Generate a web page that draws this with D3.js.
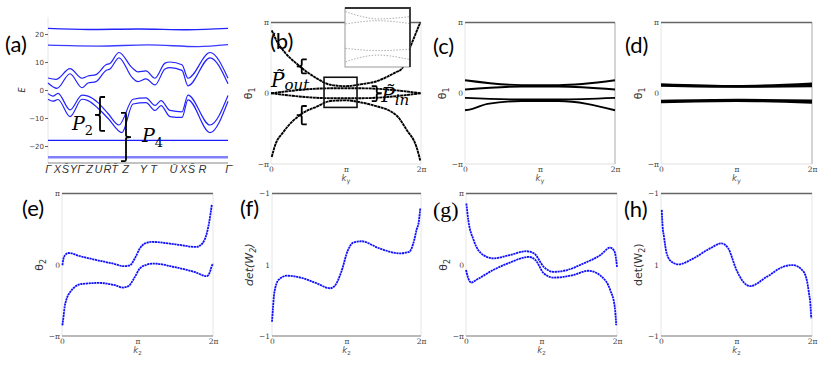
<!DOCTYPE html>
<html lang="en">
<head>
<meta charset="UTF-8">
<title>Bands and Wilson loops</title>
<script src="https://cdn.jsdelivr.net/npm/d3@7"></script>
<style>
  body { margin: 0; background: #fff; }
  .tk text { font-family: "DejaVu Serif", serif; font-size: 7.5px; fill: #444; }
  .tka text { font-family: "DejaVu Sans", sans-serif; font-size: 7px; fill: #444; }
  .tkk text { font-family: "Liberation Sans", sans-serif; font-style: italic; font-size: 11px; fill: #333; }
  .plbl { font-family: Lato, sans-serif; font-size: 22px; fill: #000; }
  .ttl { font-family: "DejaVu Sans", sans-serif; fill: #333; }
  .pp { font-family: "DejaVu Serif", serif; font-style: italic; fill: #000; }
</style>
</head>
<body>
<script>
// ---------- data ----------
// (a) band structure along the k-path
const kLabels = ["Γ","X","S\u0304","Y","Γ\u0304","Z","U","R\u0304","T\u0304","Z","Y","T","U\u0304","X","S\u0304","R","Γ\u0304"];
const kPos = [0, 9, 17, 25, 32, 41, 50, 59, 66, 77, 95, 105, 125, 135, 143, 154, 180];
const eTicks = [-20, -10, 0, 10, 20];
const bandTop = [[0,22],[40,21.6],[90,21.8],[140,21.5],[180,22]];
const bandHigh = [[0,16],[50,15.7],[100,16.1],[150,15.5],[180,16.2]];
const bandLow = [[0,-18],[180,-18]];
const bandBottom = [[0,-24],[180,-24]];
const bandU1 = [[0,4.3],[8,3.8],[22,7.6],[34,4.2],[40,5],[48,5.5],[58,9],[62,9.5],[71,13.4],[84,8],[90,6.5],[98,6.8],[107,4.2],[117,9.6],[122,10],[134,9],[140,4.2],[162,13.4],[180,4.2]];
const bandU2 = [[0,2.5],[9,0.6],[22,5.8],[34,0.8],[40,2.5],[48,3],[58,7],[62,7.5],[71,11.5],[84,4.5],[90,3],[98,4],[107,1.8],[117,7.5],[122,8],[134,7],[140,1.5],[162,11.5],[180,2.2]];
const bandL1 = [[0,-1.3],[5,-2.2],[10,-1.2],[22,-7.1],[34,-1.8],[40,-2.2],[50,-4.5],[60,-8.4],[71,-12.5],[85,-3.3],[98,-2.8],[107,-5.5],[113,-3.8],[122,-7.3],[134,-7.8],[140,-1.8],[162,-12.5],[180,-2]];
const bandL2 = [[0,-3.3],[5,-4],[10,-3.4],[22,-9.5],[34,-3.3],[40,-3.8],[50,-6.5],[60,-10.1],[74,-15.2],[85,-5],[98,-4.5],[107,-7.3],[113,-5.6],[122,-9.5],[134,-9.8],[140,-3.5],[162,-15.2],[180,-4]];

// (b) theta_1 vs k_y (units of pi)
const bOuterUp = [[0.01,0.89],[0.07,0.75],[0.19,0.57],[0.34,0.42],[0.61,0.21],[0.79,0.12],[1.0,0.1],[1.19,0.125],[1.41,0.17],[1.67,0.3],[1.74,0.34],[1.86,0.66],[1.99,1.0]];
const bOuterDn = [[0.01,-0.9],[0.053,-0.74],[0.164,-0.55],[0.41,-0.29],[0.61,-0.19],[0.79,-0.11],[1.0,-0.1],[1.2,-0.13],[1.36,-0.17],[1.67,-0.31],[1.81,-0.52],[1.94,-0.76],[1.99,-0.95]];
const bInnerUp = [[0,0],[0.8,0.07],[1.2,0.07],[2,0]];
const bInnerDn = [[0,0],[0.8,-0.07],[1.2,-0.07],[2,0]];
const zoomK = [0.707, 1.147];
const zoomV = [-0.2, 0.226];
const insetA = [[0.71,0.2],[0.8,0.17],[0.93,0.147],[1.14,0.163]];
const insetB = [[0.71,0.111],[0.93,0.134],[1.14,0.115]];
const insetC = [[0.71,-0.065],[0.93,-0.082],[1.14,-0.072]];
const insetD = [[0.71,-0.162],[0.93,-0.114],[1.14,-0.145]];

// (c), (d)
const c1 = [[0,0.184],[0.75,0.115],[1.25,0.115],[2,0.184]];
const c2 = [[0,0.052],[0.75,0.095],[1.25,0.095],[2,0.052]];
const c3 = [[0,-0.066],[0.75,-0.088],[1.25,-0.088],[2,-0.066]];
const c4 = [[0,-0.24],[0.1,-0.22],[0.3,-0.15],[0.75,-0.11],[1.25,-0.11],[2,-0.24]];
const d1 = [[0,0.125],[1,0.1],[2,0.135]];
const d2 = [[0,0.11],[1,0.095],[2,0.1]];
const d3l = [[0,-0.11],[1,-0.095],[2,-0.105]];
const d4 = [[0,-0.125],[1,-0.105],[2,-0.13]];

// (e)-(h) vs k_z
const eUp = [[0.005,-0.007],[0.02,0.087],[0.04,0.133],[0.085,0.165],[0.24,0.12],[0.5,0.056],[0.7,0.01],[0.81,-0.02],[0.9,-0.007],[0.97,0.1],[1.03,0.227],[1.1,0.3],[1.19,0.32],[1.5,0.287],[1.78,0.25],[1.86,0.3],[1.92,0.45],[1.95,0.6],[1.985,0.85]];
const eDn = [[0.005,-0.85],[0.02,-0.73],[0.035,-0.59],[0.055,-0.5],[0.08,-0.43],[0.11,-0.38],[0.26,-0.27],[0.5,-0.255],[0.7,-0.287],[0.81,-0.32],[0.88,-0.3],[0.96,-0.18],[1.03,-0.053],[1.12,0.0],[1.21,0.017],[1.5,-0.035],[1.75,-0.1],[1.92,-0.16],[1.96,-0.1],[1.98,-0.03],[2.0,0.017]];
const fDet = [[0.0,-0.8],[0.013,-0.61],[0.03,-0.40],[0.09,-0.21],[0.2,-0.154],[0.38,-0.18],[0.6,-0.26],[0.78,-0.33],[0.84,-0.30],[0.93,-0.1],[1.02,0.206],[1.09,0.31],[1.2,0.33],[1.44,0.23],[1.71,0.16],[1.84,0.18],[1.91,0.35],[1.94,0.49],[1.97,0.6],[1.99,0.79]];
const gUp = [[0.005,0.86],[0.03,0.63],[0.1,0.35],[0.23,0.136],[0.36,0.09],[0.58,0.136],[0.8,0.19],[0.9,0.16],[1.03,-0.03],[1.16,-0.1],[1.34,-0.074],[1.56,0.02],[1.78,0.136],[1.91,0.24],[1.96,0.2],[1.99,0.066],[2.0,-0.03]];
const gDn = [[0.0,-0.074],[0.03,-0.19],[0.07,-0.25],[0.14,-0.21],[0.36,-0.074],[0.58,0.03],[0.83,0.11],[0.92,0.066],[1.03,-0.12],[1.16,-0.18],[1.42,-0.145],[1.62,-0.084],[1.8,-0.17],[1.91,-0.355],[1.97,-0.59],[1.99,-0.85]];
const hDet = [[0.01,0.77],[0.02,0.56],[0.04,0.39],[0.075,0.16],[0.14,0.042],[0.23,0.005],[0.43,0.09],[0.65,0.23],[0.8,0.3],[0.89,0.23],[1.0,-0.074],[1.09,-0.24],[1.18,-0.3],[1.4,-0.17],[1.62,-0.028],[1.74,-0.004],[1.87,-0.074],[1.93,-0.21],[1.96,-0.4],[1.98,-0.57],[1.99,-0.75]];

const kTicks = [0, 1, 2], kTickText = ["0", "π", "2π"];
const thTicks = [-1, 0, 1], thTickText = ["−π", "0", "π"];
const detTickText = ["−1", "1", "−1"];

// ---------- drawing ----------
const svg = d3.select("body").append("svg").attr("width", 831).attr("height", 369);

function panel(x0, x1, y0, y1, xd, yd) {
  return {
    x0, x1, y0, y1,
    x: d3.scaleLinear().domain(xd).range([x0, x1]),
    y: d3.scaleLinear().domain(yd).range([y1, y0])
  };
}

const P = {
  a: panel(48, 228, 17, 163, [0, 180], [-26.07, 26.07]),
  b: panel(271, 421, 22.5, 164, [0, 2], [-1, 1]),
  c: panel(465, 615, 22.5, 164, [0, 2], [-1, 1]),
  d: panel(661, 812, 22.5, 164, [0, 2], [-1, 1]),
  e: panel(62, 213, 193.5, 336, [0, 2], [-1, 1]),
  f: panel(272, 421, 193.5, 336, [0, 2], [-1, 1]),
  g: panel(466, 617, 193.5, 336, [0, 2], [-1, 1]),
  h: panel(661, 812, 193.5, 336, [0, 2], [-1, 1])
};

function frame(p, bottomCol, rightCol) {
  const g = svg.append("g");
  g.append("line").attr("x1", p.x0).attr("x2", p.x0).attr("y1", p.y0).attr("y2", p.y1).attr("stroke", "#e6e6e6");
  g.append("line").attr("x1", p.x1).attr("x2", p.x1).attr("y1", p.y0).attr("y2", p.y1).attr("stroke", rightCol);
  g.append("line").attr("x1", p.x0).attr("x2", p.x1).attr("y1", p.y1).attr("y2", p.y1).attr("stroke", bottomCol).attr("stroke-width", 1.2);
  g.append("line").attr("x1", p.x0).attr("x2", p.x1).attr("y1", p.y0).attr("y2", p.y0).attr("stroke", "#666").attr("stroke-width", 1.3);
}

function axes(p, yText, xTitleSub, yTitle, yItalic) {
  const gx = svg.append("g").attr("class", "tk").attr("transform", `translate(0,${p.y1})`)
    .call(d3.axisBottom(p.x).tickValues(kTicks).tickFormat((d, i) => kTickText[i]).tickSize(0).tickPadding(3));
  gx.select(".domain").remove();
  const gy = svg.append("g").attr("class", "tk").attr("transform", `translate(${p.x0},0)`)
    .call(d3.axisLeft(p.y).tickValues(thTicks).tickFormat((d, i) => yText[i]).tickSize(0).tickPadding(2));
  gy.select(".domain").remove();

  const xm = (p.x0 + p.x1) / 2;
  const t = svg.append("text").attr("class", "ttl").attr("x", xm).attr("y", p.y1 + 17)
    .attr("text-anchor", "middle").attr("font-size", 8.5).style("fill", "#555");
  t.append("tspan").attr("font-style", "italic").text("k");
  t.append("tspan").attr("font-size", 6.5).attr("dy", 2).text(xTitleSub);

  const ym = (p.y0 + p.y1) / 2;
  const yt = svg.append("text").attr("class", "ttl")
    .attr("transform", `translate(${p.x0 - 19},${ym}) rotate(-90)`)
    .attr("text-anchor", "middle").attr("font-size", 11)
    .attr("font-style", yItalic ? "italic" : null);
  yt.append("tspan").text(yTitle[0]);
  yt.append("tspan").attr("font-size", 8).attr("dy", 3).text(yTitle[1]);
  if (yTitle[2]) yt.append("tspan").attr("dy", -3).text(yTitle[2]);
}

function curve(p, data, color, width, dash) {
  svg.append("path").datum(data)
    .attr("d", d3.line().x(d => p.x(d[0])).y(d => p.y(d[1])).curve(d3.curveMonotoneX))
    .attr("fill", "none").attr("stroke", color).attr("stroke-width", width)
    .attr("stroke-dasharray", dash || null).attr("stroke-linecap", "butt");
}

// square bracket with a small middle tick, opening to +dir
function brace(p, k, vTop, vBot, vMid, dir) {
  const x = p.x(k), yt = p.y(vTop), yb = p.y(vBot), ym = p.y(vMid);
  const s = 5 * dir;
  const d = `M${x + s},${yt} L${x + 1 * dir},${yt} Q${x},${yt} ${x},${yt + 1.5} L${x},${ym - 1.5} Q${x},${ym} ${x - s},${ym} ` +
            `Q${x},${ym} ${x},${ym + 1.5} L${x},${yb - 1.5} Q${x},${yb} ${x + 1 * dir},${yb} L${x + s},${yb}`;
  svg.append("path").attr("d", d).attr("fill", "none").attr("stroke", "#000").attr("stroke-width", 1.8);
}

function plabel(txt, x, y, fam) {
  svg.append("text").attr("class", "plbl").attr("x", x).attr("y", y)
    .style("font-family", fam || null).text(txt);
}

// ----- (a) -----
const pa = P.a;
svg.append("line").attr("x1", pa.x0).attr("x2", pa.x0).attr("y1", pa.y0).attr("y2", pa.y1).attr("stroke", "#e6e6e6");
svg.append("line").attr("x1", pa.x0).attr("x2", pa.x1).attr("y1", pa.y1).attr("y2", pa.y1).attr("stroke", "#888").attr("stroke-width", 1.2);
const gax = svg.append("g").attr("class", "tka").attr("transform", `translate(${pa.x0},0)`)
  .call(d3.axisLeft(pa.y).tickValues(eTicks).tickFormat(d => d < 0 ? "−" + (-d) : d).tickSize(3).tickPadding(1));
gax.select(".domain").remove();
gax.selectAll("line").attr("stroke", "#666");
const gak = svg.append("g").attr("class", "tkk").attr("transform", `translate(0,${pa.y1})`)
  .call(d3.axisBottom(pa.x).tickValues(kPos).tickFormat((d, i) => kLabels[i]).tickSize(0).tickPadding(2));
gak.select(".domain").remove();
svg.append("text").attr("class", "ttl").attr("transform", `translate(25,${pa.y(0)}) rotate(-90)`)
  .attr("text-anchor", "middle").attr("font-size", 8).attr("font-style", "italic").text("E");

curve(pa, bandTop, "#2222ff", 1.4);
curve(pa, bandHigh, "#3b3bff", 1.3);
curve(pa, bandLow, "#1a1aff", 1.3);
curve(pa, bandBottom, "#8080ff", 2.4);
[bandU1, bandU2, bandL1, bandL2].forEach(b => curve(pa, b, "#2323ff", 1.2));

brace(pa, 52, -2.5, -14.6, -8.9, 1);
brace(pa, 78, -8.2, -25.4, -16.8, -1);
const p2 = svg.append("text").attr("class", "pp").attr("x", pa.x(24)).attr("y", pa.y(-14.3)).attr("font-size", 19);
p2.append("tspan").text("P");
p2.append("tspan").attr("font-size", 13).attr("dy", 5).attr("font-style", "normal").text("2");
const p4 = svg.append("text").attr("class", "pp").attr("x", pa.x(94)).attr("y", pa.y(-18.6)).attr("font-size", 19);
p4.append("tspan").text("P");
p4.append("tspan").attr("font-size", 13).attr("dy", 5).attr("font-style", "normal").text("4");
plabel("(a)", 5, 52);

// ----- (b) -----
const pb = P.b;
frame(pb, "#e0e0e0", "#e6e6e6");
axes(pb, thTickText, "y", ["θ", "1"], false);
[bOuterUp, bOuterDn, bInnerUp, bInnerDn].forEach(c => curve(pb, c, "#000", 1.9, "3,0.5"));
svg.append("rect")
  .attr("x", pb.x(zoomK[0])).attr("y", pb.y(zoomV[1]))
  .attr("width", pb.x(zoomK[1]) - pb.x(zoomK[0])).attr("height", pb.y(zoomV[0]) - pb.y(zoomV[1]))
  .attr("fill", "none").attr("stroke", "#111").attr("stroke-width", 1.6);
// inset
const pi = panel(345, 410, 8, 67, zoomK, zoomV);
svg.append("rect").attr("x", pi.x0).attr("y", pi.y0).attr("width", pi.x1 - pi.x0).attr("height", pi.y1 - pi.y0)
  .attr("fill", "#fff").attr("stroke", "#999").attr("stroke-width", 1);
svg.append("path").attr("d", `M${pi.x0},${pi.y0} L${pi.x1},${pi.y0} L${pi.x1},${pi.y1}`)
  .attr("fill", "none").attr("stroke", "#333").attr("stroke-width", 1.8);
[insetA, insetB, insetC, insetD].forEach(c => curve(pi, c, "#999", 0.8, "1.5,1.5"));
brace(pb, 0.41, 0.48, 0.28, 0.38, 1);
brace(pb, 0.41, -0.18, -0.44, -0.31, 1);
brace(pb, 1.41, 0.1, -0.11, 0, -1);
const po = svg.append("text").attr("class", "pp").attr("x", pb.x(0)).attr("y", pb.y(0.085)).attr("font-size", 20);
po.append("tspan").text("P\u0303");
po.append("tspan").attr("font-size", 15).attr("dy", 3).text("out");
const pn = svg.append("text").attr("class", "pp").attr("x", pb.x(1.47)).attr("y", pb.y(-0.13)).attr("font-size", 20);
pn.append("tspan").text("P\u0303");
pn.append("tspan").attr("font-size", 15).attr("dy", 3).text("in");
plabel("(b)", 270, 49);

// ----- (c) -----
const pc = P.c;
frame(pc, "#e0e0e0", "#aaa");
axes(pc, thTickText, "y", ["θ", "1"], false);
[c1, c2, c3, c4].forEach(c => curve(pc, c, "#000", 1.9));
plabel("(c)", 433, 54);

// ----- (d) -----
const pd = P.d;
frame(pd, "#e0e0e0", "#aaa");
axes(pd, thTickText, "y", ["θ", "1"], false);
[d1, d2, d3l, d4].forEach(c => curve(pd, c, "#000", 2.4));
plabel("(d)", 625, 53);

// ----- (e) -----
const pe = P.e;
frame(pe, "#777", "#e6e6e6");
axes(pe, thTickText, "z", ["θ", "2"], false);
[eUp, eDn].forEach(c => curve(pe, c, "#1010ff", 1.8, "2.2,0.6"));
plabel("(e)", 22, 216);

// ----- (f) -----
const pf = P.f;
frame(pf, "#777", "#e6e6e6");
axes(pf, detTickText, "z", ["det(W", "2", ")"], true);
curve(pf, fDet, "#1010ff", 1.8, "2.2,0.6");
plabel("(f)", 240, 216);

// ----- (g) -----
const pg = P.g;
frame(pg, "#777", "#e6e6e6");
axes(pg, thTickText, "z", ["θ", "2"], false);
[gUp, gDn].forEach(c => curve(pg, c, "#1010ff", 1.8, "2.2,0.6"));
plabel("(g)", 433, 217, "Liberation Serif");

// ----- (h) -----
const ph = P.h;
frame(ph, "#777", "#e6e6e6");
axes(ph, detTickText, "z", ["det(W", "2", ")"], false);
curve(ph, hDet, "#1010ff", 1.8, "2.2,0.6");
plabel("(h)", 624, 217);
</script>
</body>
</html>
